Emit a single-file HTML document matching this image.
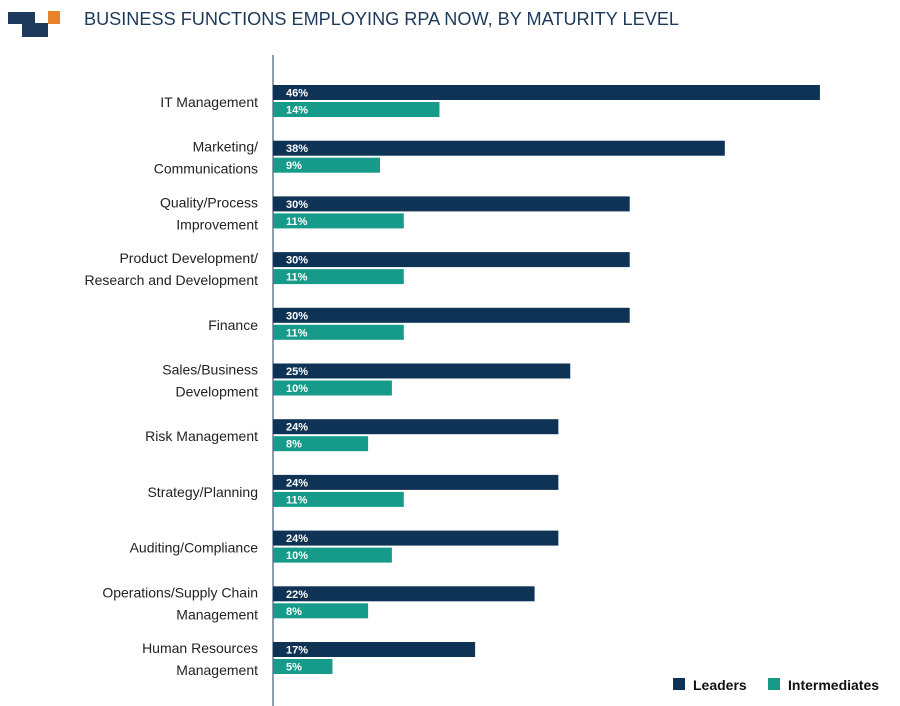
<!DOCTYPE html>
<html><head><meta charset="utf-8"><style>
body{margin:0;background:#fff;}
svg{display:block;font-family:"Liberation Sans",sans-serif;}
</style></head><body>
<svg id="chart" width="900" height="706">
<g>
<rect x="8" y="12" width="27" height="12" fill="#1d3a5c"/>
<rect x="22" y="23" width="26" height="14" fill="#1d3a5c"/>
<rect x="48" y="11" width="12" height="13" fill="#e8822a"/>
</g>
<text x="84" y="25" font-size="18.2" textLength="595" lengthAdjust="spacingAndGlyphs" fill="#1d3a5c">BUSINESS FUNCTIONS EMPLOYING RPA NOW, BY MATURITY LEVEL</text>
<line x1="273" y1="55" x2="273" y2="706" stroke="#1d3a5c" stroke-width="1"/>
<g id="bars"></g>
<g>
<rect x="673" y="678" width="12" height="12" fill="#0e3355"/>
<text x="693" y="690" font-size="14" font-weight="bold" fill="#111">Leaders</text>
<rect x="768" y="678" width="12" height="12" fill="#169b8a"/>
<text x="788" y="690" font-size="14" font-weight="bold" fill="#111">Intermediates</text>
</g>
</svg>
<script>
const categories=[["IT Management"],["Marketing/","Communications"],["Quality/Process","Improvement"],["Product Development/","Research and Development"],["Finance"],["Sales/Business","Development"],["Risk Management"],["Strategy/Planning"],["Auditing/Compliance"],["Operations/Supply Chain","Management"],["Human Resources","Management"]];
const leaders=[46,38,30,30,30,25,24,24,24,22,17];
const intermediates=[14,9,11,11,11,10,8,11,10,8,5];
const NS="http://www.w3.org/2000/svg";
const g=document.getElementById('bars');
const x0=273, k=11.89;
const xs=v=>v*k;
const rowY=i=>85+i*55.7;
function mk(t,a){const e=document.createElementNS(NS,t);for(const n in a)e.setAttribute(n,a[n]);g.appendChild(e);return e;}
categories.forEach((c,i)=>{
  const y=rowY(i);
  const b1=mk('rect',{x:x0,y:y,width:xs(leaders[i]),height:15,fill:'#0e3355'});
  
  
  const t1=mk('text',{x:x0+13,y:y+11.5,'font-size':11,'font-weight':'bold',fill:'#fff'});
  t1.textContent=leaders[i]+'%';
  
  
  const b2=mk('rect',{x:x0,y:y+17,width:xs(intermediates[i]),height:15,fill:'#169b8a'});
  
  
  const t2=mk('text',{x:x0+13,y:y+28.5,'font-size':11,'font-weight':'bold',fill:'#fff'});
  t2.textContent=intermediates[i]+'%';
  
  
  const lines=c.length;
  c.forEach((s,j)=>{
    const ty = lines===1 ? y+22 : y+11+j*22;
    const t=mk('text',{x:258,y:ty,'font-size':14,fill:'#222','text-anchor':'end'});
    t.textContent=s;
    
    
  });
});
</script>
</body></html>
